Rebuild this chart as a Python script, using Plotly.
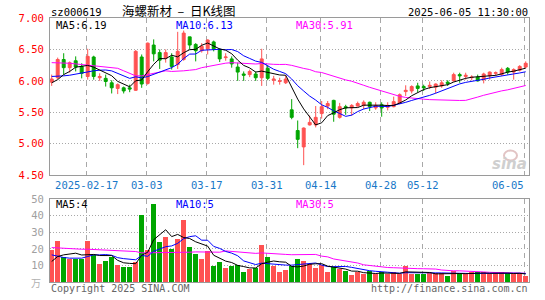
import plotly.graph_objects as go
import pandas as pd

# ---------------- data ----------------
dates = ["02-07", "02-10", "02-11", "02-12", "02-13", "02-14",
         "02-17", "02-18", "02-19", "02-20", "02-21",
         "02-24", "02-25", "02-26", "02-27", "02-28",
         "03-03", "03-04", "03-05", "03-06", "03-07",
         "03-10", "03-11", "03-12", "03-13", "03-14",
         "03-17", "03-18", "03-19", "03-20", "03-21",
         "03-24", "03-25", "03-26", "03-27", "03-28",
         "03-31", "04-01", "04-02", "04-03",
         "04-07", "04-08", "04-09", "04-10", "04-11",
         "04-14", "04-15", "04-16", "04-17", "04-18",
         "04-21", "04-22", "04-23", "04-24", "04-25",
         "04-28", "04-29", "04-30", "05-06", "05-07", "05-08", "05-09",
         "05-12", "05-13", "05-14", "05-15", "05-16",
         "05-19", "05-20", "05-21", "05-22", "05-23",
         "05-26", "05-27", "05-28", "05-29", "05-30",
         "06-03", "06-04", "06-05"]

open_ = [5.98, 6.05, 6.34, 6.21, 6.32, 6.23, 6.07, 6.38, 6.05, 6.04,
         5.97, 5.88, 5.89, 5.89, 5.85, 6.38, 5.96, 6.57, 6.45, 6.36,
         6.38, 6.26, 6.34, 6.70, 6.58, 6.48, 6.51, 6.62, 6.50, 6.37,
         6.35, 6.22, 6.11, 6.10, 6.11, 6.05, 6.20, 6.01, 5.99, 5.97,
         5.54, 5.21, 4.95, 5.30, 5.30, 5.48, 5.60, 5.69, 5.42, 5.59,
         5.57, 5.60, 5.61, 5.66, 5.57, 5.62, 5.58, 5.59, 5.64, 5.83,
         5.84, 5.92, 5.91, 5.91, 5.90, 5.92, 5.98, 6.00, 6.10, 6.07,
         6.05, 6.06, 6.02, 6.08, 6.12, 6.10, 6.20, 6.14, 6.17, 6.22]
close = [6.03, 6.34, 6.21, 6.29, 6.22, 6.12, 6.39, 6.07, 6.07, 5.99,
         5.89, 5.94, 5.84, 5.87, 6.47, 5.95, 6.60, 6.43, 6.33, 6.45,
         6.23, 6.47, 6.76, 6.57, 6.48, 6.55, 6.65, 6.51, 6.35, 6.38,
         6.27, 6.14, 6.09, 6.15, 6.05, 6.35, 6.04, 6.03, 6.00, 6.03,
         5.42, 5.07, 5.25, 5.34, 5.42, 5.59, 5.64, 5.47, 5.59, 5.57,
         5.61, 5.64, 5.66, 5.59, 5.61, 5.57, 5.61, 5.67, 5.78, 5.85,
         5.91, 5.88, 5.89, 5.93, 5.95, 5.97, 5.96, 6.10, 6.08, 6.09,
         6.06, 6.00, 6.11, 6.14, 6.13, 6.18, 6.14, 6.18, 6.23, 6.28]
high = [6.10, 6.37, 6.44, 6.31, 6.39, 6.28, 6.51, 6.40, 6.12, 6.10,
        6.01, 5.96, 5.91, 5.94, 6.49, 6.42, 6.61, 6.66, 6.50, 6.50,
        6.44, 6.78, 6.80, 6.70, 6.60, 6.60, 6.66, 6.64, 6.52, 6.44,
        6.39, 6.29, 6.15, 6.18, 6.15, 6.51, 6.25, 6.08, 6.05, 6.09,
        5.71, 5.37, 5.26, 5.45, 5.60, 5.68, 5.68, 5.70, 5.65, 5.62,
        5.63, 5.67, 5.69, 5.67, 5.66, 5.66, 5.66, 5.75, 5.80, 5.93,
        5.93, 5.97, 5.94, 5.99, 5.96, 6.01, 6.01, 6.13, 6.13, 6.13,
        6.09, 6.10, 6.13, 6.15, 6.15, 6.21, 6.22, 6.20, 6.25, 6.31]
low = [5.92, 6.03, 6.10, 6.13, 6.15, 6.04, 6.02, 6.02, 6.00, 5.91,
       5.80, 5.79, 5.80, 5.82, 5.84, 5.89, 5.94, 6.31, 6.19, 6.29,
       6.18, 6.19, 6.32, 6.50, 6.31, 6.45, 6.42, 6.47, 6.30, 6.32,
       6.21, 6.00, 6.00, 6.06, 6.00, 5.92, 6.01, 5.94, 5.94, 5.95,
       5.39, 4.93, 4.66, 5.29, 5.26, 5.40, 5.55, 5.35, 5.40, 5.46,
       5.45, 5.59, 5.55, 5.52, 5.54, 5.43, 5.53, 5.58, 5.63, 5.76,
       5.80, 5.82, 5.84, 5.87, 5.80, 5.89, 5.92, 5.99, 5.97, 6.02,
       6.01, 5.99, 5.96, 6.02, 6.08, 6.08, 6.10, 6.02, 6.15, 6.20]
volume = [19.4, 24.8, 14.8, 14.0, 14.0, 14.0, 24.8, 16.4, 10.8, 12.8,
          15.0, 10.4, 9.0, 9.0, 12.0, 40.4, 19.4, 47.0, 24.0, 27.0,
          19.8, 26.0, 37.4, 21.2, 17.0, 14.0, 18.8, 9.8, 12.0, 8.4,
          9.8, 10.2, 6.2, 8.0, 8.2, 22.4, 15.0, 9.8, 5.6, 7.0,
          9.6, 13.6, 12.4, 11.0, 8.4, 10.0, 6.0, 9.0, 7.6, 6.4,
          4.0, 5.6, 4.6, 6.6, 4.8, 5.6, 4.8, 6.0, 4.8, 9.4,
          4.6, 4.8, 4.8, 5.2, 5.2, 5.2, 3.6, 6.4, 5.2, 4.8,
          6.0, 5.6, 5.6, 4.4, 5.6, 6.2, 5.0, 4.6, 5.0, 3.4]

# moving-average values before a full window exists
price_ma5_head = [5.97, 6.02, 6.10, 6.15]
price_ma10_head = [6.07, 6.07, 6.08, 6.09, 6.11, 6.13, 6.15, 6.16, 6.17]
price_ma30_head = [6.29, 6.29, 6.28, 6.28, 6.27, 6.26, 6.25, 6.25, 6.24, 6.23,
                   6.22, 6.20, 6.16, 6.12, 6.08, 6.08, 6.10, 6.12, 6.14, 6.16,
                   6.15, 6.15, 6.16, 6.17, 6.18, 6.21, 6.23, 6.25, 6.27]
vol_ma5_head = [12.4, 15.4, 16.4, 17.0]
vol_ma10_head = [16.4, 15.4, 14.8, 14.4, 14.4, 14.4, 15.4, 16.4, 16.4]
vol_ma30_head = [20.8, 20.6, 20.2, 19.8, 19.8, 19.8, 19.8, 19.6, 19.4, 19.2,
                 19.0, 18.8, 18.6, 18.6, 18.4, 17.6, 17.6, 17.8, 17.8, 17.8,
                 17.8, 18.0, 18.0, 18.0, 18.2, 18.2, 18.2, 18.0, 18.0]

tick_dates = ["02-17", "03-03", "03-17", "03-31", "04-14", "04-28", "05-12", "06-05"]
tick_text = ["2025-02-17", "03-03", "03-17", "03-31", "04-14", "04-28", "05-12", ""]
last_tick_text = "06-05"
price_ticks = [4.5, 5.0, 5.5, 6.0, 6.5, 7.0]
vol_ticks = [10, 20, 30, 40, 50]

# ---------------- styling ----------------
RED = "#ff5252"
GREEN = "#00a600"
BLUE_TXT = "#1878c8"
GRID = "#a8a8a8"
BORDER = "#9a9a9a"
MONO = "DejaVu Sans Mono"


def moving_average(values, n, head):
    s = pd.Series(values).rolling(n).mean().tolist()
    for i, h in enumerate(head):
        s[i] = h
    return s


x = list(range(len(dates)))
ma5 = moving_average(close, 5, price_ma5_head)
ma10 = moving_average(close, 10, price_ma10_head)
ma30 = moving_average(close, 30, price_ma30_head)
vma5 = moving_average(volume, 5, vol_ma5_head)
vma10 = moving_average(volume, 10, vol_ma10_head)
vma30 = moving_average(volume, 30, vol_ma30_head)
vol_colors = [RED if c >= o else GREEN for o, c in zip(open_, close)]
tick_pos = [dates.index(d) - 0.17 for d in tick_dates]

fig = go.Figure()
fig.add_trace(go.Candlestick(
    x=x, open=open_, high=high, low=low, close=close,
    increasing=dict(line=dict(color=RED, width=1), fillcolor=RED),
    decreasing=dict(line=dict(color=GREEN, width=1), fillcolor=GREEN),
    whiskerwidth=0, xaxis="x", yaxis="y", showlegend=False))
for vals, col in [(ma30, "#ff00ff"), (ma10, "#0000ff"), (ma5, "#000000")]:
    fig.add_trace(go.Scatter(x=x, y=vals, mode="lines", line=dict(color=col, width=1),
                             xaxis="x", yaxis="y", showlegend=False))
fig.add_trace(go.Bar(x=x, y=volume, marker=dict(color=vol_colors, line=dict(width=0)),
                     width=0.75, xaxis="x2", yaxis="y2", showlegend=False))
for vals, col in [(vma30, "#ff00ff"), (vma10, "#0000ff"), (vma5, "#000000")]:
    fig.add_trace(go.Scatter(x=x, y=vals, mode="lines", line=dict(color=col, width=1),
                             xaxis="x2", yaxis="y2", showlegend=False))

L, R, T, B = 50, 529, 18, 285


def px(v):
    return (v - L) / (R - L)


def py(v):
    return (B - v) / (B - T)


xcommon = dict(range=[-0.283, 79.55], showgrid=True, gridcolor=GRID, griddash="5px,4px",
               gridwidth=1, showline=True, mirror=True, linecolor=BORDER, linewidth=1,
               zeroline=False, ticks="", tickvals=tick_pos, fixedrange=True)

fig.update_layout(
    width=545, height=300,
    margin=dict(l=L, r=545 - R, t=T, b=300 - B),
    paper_bgcolor="white", plot_bgcolor="white",
    bargap=0,
    xaxis=dict(**xcommon, domain=[0, 1], anchor="y", ticktext=tick_text,
               tickfont=dict(family=MONO, size=10.5, color=BLUE_TXT),
               rangeslider=dict(visible=False)),
    yaxis=dict(domain=[py(177), 1], range=[4.5, 7.0], tickvals=price_ticks,
               ticktext=[f"{v:.2f}" for v in price_ticks],
               tickfont=dict(family=MONO, size=10.5, color="#ff0000"),
               showgrid=True, gridcolor=GRID, griddash="1px,2px", showline=True,
               mirror=True, linecolor=BORDER, zeroline=False, ticks="",
               ticklabelstandoff=3, anchor="x"),
    xaxis2=dict(**xcommon, domain=[0, 1], anchor="y2", matches="x", showticklabels=False),
    yaxis2=dict(domain=[0, py(201.3)], range=[0, 50], tickvals=vol_ticks,
                ticktext=[str(v) for v in vol_ticks],
                tickfont=dict(family=MONO, size=10.5, color="#a0a0a0"),
                showgrid=True, gridcolor=GRID, griddash="1px,2px", showline=True,
                mirror=True, linecolor=BORDER, zeroline=False, ticks="",
                ticklabelstandoff=3, anchor="x2"),
)


def label(text, x, y, color="#000", size=10.5, family=MONO, xanchor="left", **kw):
    fig.add_annotation(text=text, x=px(x), y=py(y), xref="paper", yref="paper",
                       xanchor=xanchor, yanchor="middle", showarrow=False,
                       font=dict(family=family, size=size, color=color, **kw))


label("sz000619", 49, 11.5)
label("海螺新材\u00a0 –\u00a0 日K线图", 178, 10, size=12.5, family="Noto Sans CJK SC",
      xanchor="center")
label("2025-06-05 11:30:00", 530, 11.5, xanchor="right")
label("MA5:6.19", 54, 25)
label("MA10:6.13", 173.5, 25, color="#0000ff")
label("MA30:5.91", 294, 25, color="#ff00ff")
label(last_tick_text, 508, 186.5, color=BLUE_TXT, xanchor="center")
label("MA5:4", 54, 206)
label("MA10:5", 173.5, 206, color="#0000ff")
label("MA30:5", 294, 206, color="#ff00ff")
label("Copyright 2025 SINA.COM", 49, 291.5, color="#666666", size=10)
label("http://finance.sina.com.cn", 530, 291.5, color="#666666", xanchor="right", size=10)
label("万", 43, 286, color="#b0b0b0", size=10, family="Noto Sans CJK SC", xanchor="right")
label("sina", 529, 166, color="#cfcfcf", size=15, family="DejaVu Sans", xanchor="right",
      weight="bold", style="italic")
fig.add_shape(type="circle", xref="paper", yref="paper",
              x0=px(504), x1=px(517), y0=py(162), y1=py(152),
              line=dict(color="#e2c4c4", width=2), fillcolor="rgba(0,0,0,0)")

fig.write_html("out.html", config={"displayModeBar": False},
               post_script="document.body.style.margin='0';")
